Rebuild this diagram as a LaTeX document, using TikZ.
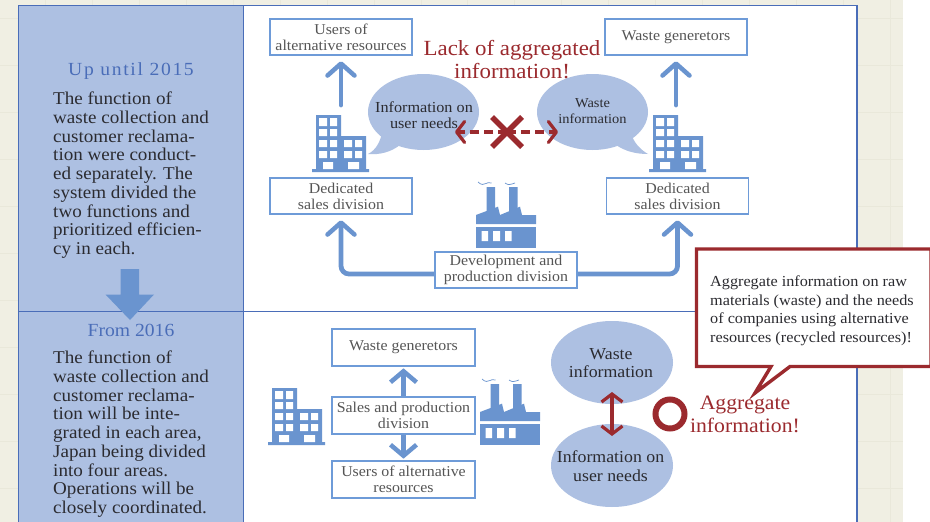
\documentclass[tikz,border=0pt]{standalone}
\usepackage{fontspec}
\setmainfont[FakeStretch=1.06]{Liberation Serif}
\usetikzlibrary{arrows.meta,shapes.geometric}
\definecolor{paper}{HTML}{F0EFE3}
\definecolor{gridc}{HTML}{E9E8DA}
\definecolor{framec}{HTML}{4A6DB8}
\definecolor{panelc}{HTML}{ADC0E2}
\definecolor{iconc}{HTML}{6A94CF}
\definecolor{boxc}{HTML}{6E9BD8}
\definecolor{redc}{HTML}{9B2A2E}
\definecolor{graytxt}{HTML}{555555}
\definecolor{darktxt}{HTML}{2B2B30}
\tikzset{
  x=1pt,y=-1pt,
  infobox/.style={draw=boxc,line width=1.6pt,fill=white,text=graytxt,minimum width=142pt,minimum height=36pt,inner sep=0pt,align=center,font=\fontsize{15}{16}\selectfont},
  bubble/.style={ellipse,fill=panelc,inner sep=0pt},
  bubbletext/.style={text=darktxt,align=center,inner sep=0pt},
  upline/.style={draw=iconc,line width=4.8pt,line cap=round,shorten >=5.5pt,-{Straight Barb[length=12pt,width=27pt,line width=4.5pt,round]}},
  bothline/.style={draw=iconc,line width=4.8pt,shorten >=1.5pt,-{Straight Barb[length=11pt,width=26pt,line width=4.5pt]}},
  redline/.style={draw=redc,line width=3.2pt,{Straight Barb[length=8pt,width=21pt,line width=3.2pt]}-{Straight Barb[length=8pt,width=21pt,line width=3.2pt]}},
  dashline/.style={draw=redc,line width=3.4pt,dash pattern=on 9pt off 5pt,-{Straight Barb[length=8pt,width=21pt,line width=3.2pt,round]}},
  redtext/.style={text=redc,align=center,inner sep=0pt},
  para/.style={text=darktxt,anchor=north west,align=left,inner sep=0pt,font=\fontsize{18}{18.7}\selectfont},
  head/.style={text=framec,inner sep=0pt},
  building/.pic={
    \fill[iconc] (4,0) rectangle (29,54) (29,21) rectangle (54,54) (0,54) rectangle (57,57);
    \fill[white]
      (7,3) rectangle (15,11) (18,3) rectangle (25,11)
      (7,14) rectangle (15,21) (18,14) rectangle (25,21)
      (7,25) rectangle (15,32) (18,25) rectangle (25,32)
      (7,36) rectangle (15,43) (18,36) rectangle (25,43)
      (32,25) rectangle (40,32) (43,25) rectangle (50,32)
      (32,36) rectangle (40,43) (43,36) rectangle (50,43)
      (11,47) rectangle (21,54) (36,47) rectangle (47,54);
  },
  factory/.pic={
    \fill[iconc] (10.5,0) rectangle (19,25) (33,0) rectangle (41.5,25);
    \fill[iconc] (0,37) -- (0,28) -- (22,19.7) -- (24,28) -- (44,19.7) -- (46,28) -- (60,28) -- (60,37) -- cycle;
    \fill[iconc] (0,40) rectangle (60,61);
    \fill[white] (5.5,44) rectangle (12,54) (17,44) rectangle (24,54) (29,44) rectangle (35.5,54);
    \draw[iconc,line width=.7pt] (2,-5) .. controls (5,-2) and (8,-2) .. (10,-3.5) .. controls (11,-4.5) and (13,-4.5) .. (15.5,-4);
    \draw[iconc,line width=.7pt] (29,-4) .. controls (32,-2) and (34,-2) .. (36,-3) .. controls (37,-4) and (38,-4) .. (39,-4);
  }
}
\begin{document}
\begin{tikzpicture}
\useasboundingbox (0,0) rectangle (930,522);
\fill[white] (0,0) rectangle (930,522);
\fill[paper] (0,0) rectangle (903,522);
\foreach \gx in {0,...,18} \draw[gridc,line width=.9pt] ({890-46.9*\gx},0) -- ({890-46.9*\gx},522);
\foreach \gy in {0,...,10} \draw[gridc,line width=.9pt] (0,{18+47*\gy}) -- (903,{18+47*\gy});
% panels
\fill[white] (243,5.5) rectangle (857,522);
\fill[panelc] (18.5,5.5) rectangle (243.5,522);
\draw[framec,line width=1.5pt] (18.5,523) -- (18.5,5.5) -- (857,5.5) -- (857,523);
\draw[framec,line width=1.5pt] (243.5,5.5) -- (243.5,523);
\draw[framec,line width=1.5pt] (18.5,311.5) -- (857,311.5);
% left column
\node[head,font=\fontsize{18.5}{20}\selectfont\addfontfeature{LetterSpace=9}] (h1) at (131,71) {Up until 2015};
\node[para] (p1) at (53,92) {The function of\\waste collection and\\customer reclama-\\tion were conduct-\\ed separately. The\\system divided the\\two functions and\\prioritized efficien-\\cy in each.};
\fill[iconc] (120.7,269) -- (139,269) -- (139,294.5) -- (154,294.5) -- (130,320) -- (105.5,294.5) -- (120.7,294.5) -- cycle;
\node[head,font=\fontsize{18.5}{20}\selectfont] (h2) at (131,330) {From 2016};
\node[para] (p2) at (53,351) {The function of\\waste collection and\\customer reclama-\\tion will be inte-\\grated in each area,\\Japan being divided\\into four areas.\\Operations will be\\closely coordinated.};
% upper diagram
\node[infobox] (ualt) at (341,37) {\raisebox{-1pt}{Users of}\\\raisebox{-1pt}{alternative resources}};
\node[infobox] (wgen) at (676,37) {Waste generetors};
\node[infobox] (dl) at (341,196) {\raisebox{-1pt}{Dedicated}\\\raisebox{-1pt}{sales division}};
\node[infobox] (dr) at (677.5,196) {\raisebox{-1pt}{Dedicated}\\\raisebox{-1pt}{sales division}};
\node[infobox] (dev) at (506,270) {\raisebox{-1pt}{Development and}\\\raisebox{-1pt}{production division}};
\coordinate (bl) at (312,115);
\coordinate (br) at (649,115);
\pic at (bl) {building};
\pic at (br) {building};
\pic at (476,187) {factory};
\coordinate (ua) at (341,105);
\coordinate (wa) at (676,105);
\draw[upline] (ua) -- (ualt.south);
\draw[upline] (wa) -- (wgen.south);
\draw[upline,rounded corners=8pt,line cap=butt] ([yshift=-4pt]dev.west) -| (dl.south);
\draw[upline,rounded corners=8pt,line cap=butt] ([yshift=-4pt]dev.east) -| (dr.south);
% speech bubbles
\fill[panelc] (382,133) .. controls (380,142) and (376,150) .. (368,154) .. controls (380,155) and (391,152) .. (400,145) -- cycle;
\fill[panelc] (632,136) .. controls (635,144) and (641,150) .. (648,154) .. controls (635,154) and (625,151) .. (616,145) -- cycle;
\node[bubble,minimum width=111pt,minimum height=76pt] (bl1) at (423.5,112) {};
\node[bubble,minimum width=111pt,minimum height=76pt] (br1) at (592.5,112) {};
\node[bubbletext,font=\fontsize{15.3}{16}\selectfont] (bl1t) at (424,115) {Information on\\user needs};
\node[bubbletext,font=\fontsize{13.6}{16}\selectfont] (br1t) at (592.5,111) {Waste\\information};
\coordinate (xc) at (507,132);
\coordinate (xl) at (455,132);
\coordinate (xr) at (558,132);
\draw[dashline] (xc) -- (xr);
\draw[dashline] (xc) -- (xl);
\draw[redc,line width=5.5pt] (492,117) -- (522,147) (522,117) -- (492,147);
\node[redtext,font=\fontsize{21.6}{22.5}\selectfont] (lack) at (512,59.5) {Lack of aggregated\\information!};
% lower diagram
\node[infobox,minimum width=143pt,minimum height=37pt] (wg2) at (403.5,347.5) {Waste generetors};
\node[infobox,minimum width=143pt,minimum height=37pt] (sp) at (403.5,415.5) {\raisebox{-1pt}{Sales and production}\\\raisebox{-1pt}{division}};
\node[infobox,minimum width=143pt,minimum height=37pt] (ua2) at (403.5,479.5) {\raisebox{-1pt}{Users of alternative}\\\raisebox{-1pt}{resources}};
\pic at (268,388) {building};
\pic at (480,384) {factory};
\draw[bothline] (sp.north) -- (wg2.south);
\draw[bothline] (sp.south) -- (ua2.north);
\node[bubble,minimum width=122pt,minimum height=83pt] (wi) at (612,362.5) {};
\node[bubble,minimum width=122pt,minimum height=83pt] (ui) at (612,465.5) {};
\node[bubbletext,font=\fontsize{16.8}{18.7}\selectfont] (wit) at (611,363) {Waste\\information};
\node[bubbletext,font=\fontsize{16.8}{18.7}\selectfont] (uit) at (610.5,466) {Information on\\user needs};
\coordinate (rt) at (612,392);
\coordinate (rb) at (612,436);
\draw[redline] (rt) -- (rb);
\node[circle,draw=redc,line width=6pt,minimum size=29pt,inner sep=0pt] (okc) at (670,414) {};
\node[redtext,font=\fontsize{20.5}{23}\selectfont] (agg) at (745,414.5) {Aggregate\\information!};
% callout
\draw[redc,fill=white,line width=3.4pt,miter limit=6] (696.5,249) -- (931,249) -- (931,366.5) -- (790,366.5) -- (755,393) -- (771,366.5) -- (696.5,366.5) -- cycle;
\node[text=darktxt,anchor=north west,align=left,inner sep=0pt,font=\fontsize{15.3}{18.6}\selectfont] (cal) at (710,275.5) {Aggregate information on raw\\materials (waste) and the needs\\of companies using alternative\\resources (recycled resources)!};
\end{tikzpicture}
\end{document}
